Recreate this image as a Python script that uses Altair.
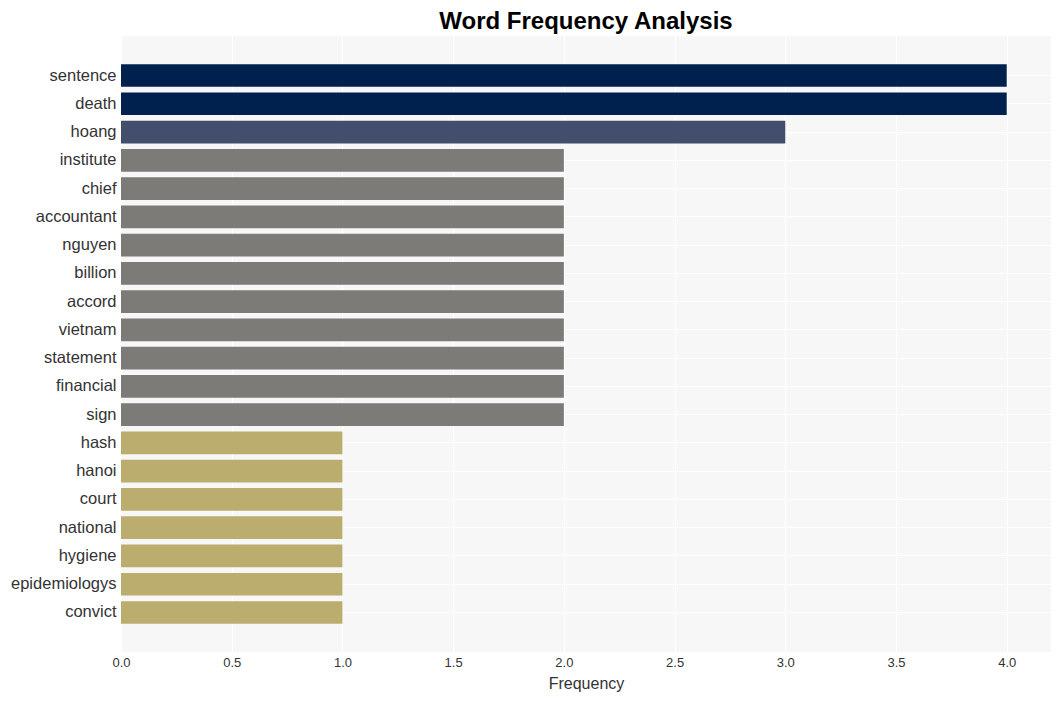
import altair as alt
import pandas as pd

words = ["sentence", "death", "hoang", "institute", "chief", "accountant", "nguyen",
         "billion", "accord", "vietnam", "statement", "financial", "sign", "hash",
         "hanoi", "court", "national", "hygiene", "epidemiologys", "convict"]
freqs = [4, 4, 3, 2, 2, 2, 2, 2, 2, 2, 2, 2, 2, 1, 1, 1, 1, 1, 1, 1]
color_levels = [1, 2, 3, 4]
color_values = ["#bbad6e", "#7c7b78", "#434e6c", "#00214e"]
x_ticks = [0, 0.5, 1.0, 1.5, 2.0, 2.5, 3.0, 3.5, 4.0]

df = pd.DataFrame({"word": words, "freq": freqs})

FONT = "Liberation Sans"

chart = alt.Chart(df).mark_bar().encode(
    y=alt.Y("word:N", sort=words, title=None,
            scale=alt.Scale(paddingInner=0.2, paddingOuter=1.0),
            axis=alt.Axis(labelFontSize=16.5, labelColor="#333333", labelFont=FONT,
                          ticks=False, domain=False, labelPadding=5,
                          grid=True, gridColor="white", gridWidth=1, bandPosition=0.5)),
    x=alt.X("freq:Q", title="Frequency",
            scale=alt.Scale(domain=[0, 4.2], nice=False, zero=True),
            axis=alt.Axis(values=x_ticks, format=".1f", labelFontSize=13, labelColor="#333333",
                          labelFont=FONT, ticks=False, domain=False, labelPadding=4,
                          labelFlush=False,
                          titleFontSize=16, titleFont=FONT, titleFontWeight="normal",
                          titleColor="#333333", titlePadding=6,
                          grid=True, gridColor="white", gridWidth=1)),
    color=alt.Color("freq:O", legend=None,
                    scale=alt.Scale(domain=color_levels, range=color_values)),
).properties(
    width=930, height=616,
    title=alt.Title("Word Frequency Analysis", fontSize=24, font=FONT, fontWeight="bold",
                    color="black", anchor="middle", offset=2),
    padding={"left": 113, "top": 28, "right": 2, "bottom": 50},
    autosize=alt.AutoSizeParams(type="none"),
    background="white",
).configure_view(
    fill="#f7f7f7", stroke=None
)

chart.save("out.html", embed_options={"renderer": "svg", "actions": False})
